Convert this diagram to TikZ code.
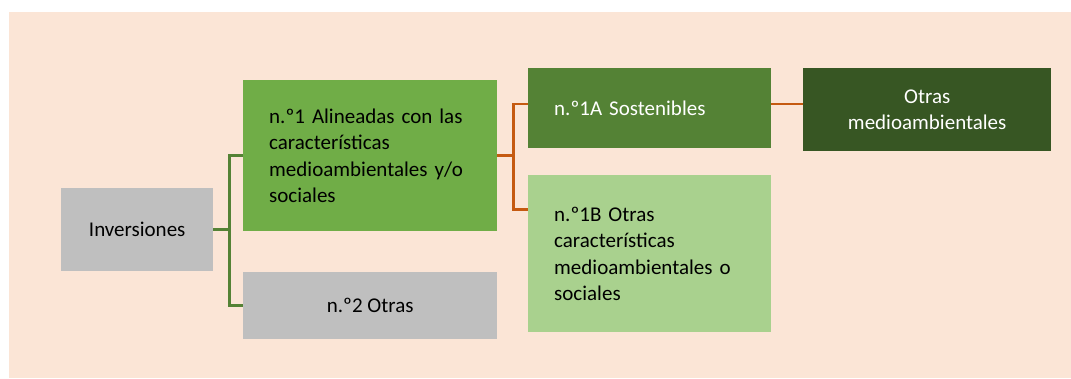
\documentclass[tikz,border=0pt]{standalone}
\usepackage{fontspec}
\setmainfont{Carlito}
\usepackage{tikz}
\definecolor{peach}{HTML}{FBE5D6}
\definecolor{boxgrey}{HTML}{BFBFBF}
\definecolor{midgreen}{HTML}{70AD47}
\definecolor{darkgreen}{HTML}{548235}
\definecolor{deepgreen}{HTML}{375623}
\definecolor{palegreen}{HTML}{A9D18E}
\definecolor{rust}{HTML}{C55A11}

\begin{document}
\begin{tikzpicture}[
   x=1pt,y=-1pt,
   box/.style={rectangle,anchor=north west,inner xsep=26pt,inner ysep=0pt,
      font=\fontsize{21}{26.5}\selectfont,text=black},
   lbox/.style={box,align=left},
   cbox/.style={box,align=center,inner xsep=4pt},
   gline/.style={draw=darkgreen,line width=2.5pt},
   oline/.style={draw=rust,line width=2.5pt}]
\useasboundingbox (0,0) rectangle (1071,378);
\fill[peach] (9,12) rectangle (1071,378);
\node[cbox,fill=boxgrey,minimum width=152pt,minimum height=83pt] (inv) at (61,188) {Inversiones};
\node[lbox,fill=midgreen,text width=202pt,minimum height=151pt] (n1) at (243,80) {n.º1 Alineadas con las\\caracter\'isticas\\medioambientales y/o\\sociales};
\node[cbox,fill=boxgrey,minimum width=254pt,minimum height=67pt] (n2) at (243,272) {n.º2 Otras};
\node[lbox,fill=darkgreen,text=white,text width=191pt,minimum height=80pt] (n1a) at (528,68) {n.º1A Sostenibles};
\node[lbox,fill=palegreen,text width=191pt,minimum height=157pt] (n1b) at (528,175) {n.º1B Otras\\caracter\'isticas\\medioambientales o\\sociales};
\node[cbox,fill=deepgreen,text=white,minimum width=248pt,minimum height=83pt] (otras) at (803,68) {Otras\\medioambientales};
\draw[gline] (inv.east) -- ++(16,0) coordinate (j0) |- (n1.west);
\draw[gline] (j0) |- (n2.west);
\draw[oline] (n1.east) -- ++(16,0) coordinate (j1) |- (n1a.178);
\draw[oline] (j1) |- (n1b.160);
\draw[oline] (n1a.2) -- (n1a.2 -| otras.west);
\end{tikzpicture}
\end{document}
